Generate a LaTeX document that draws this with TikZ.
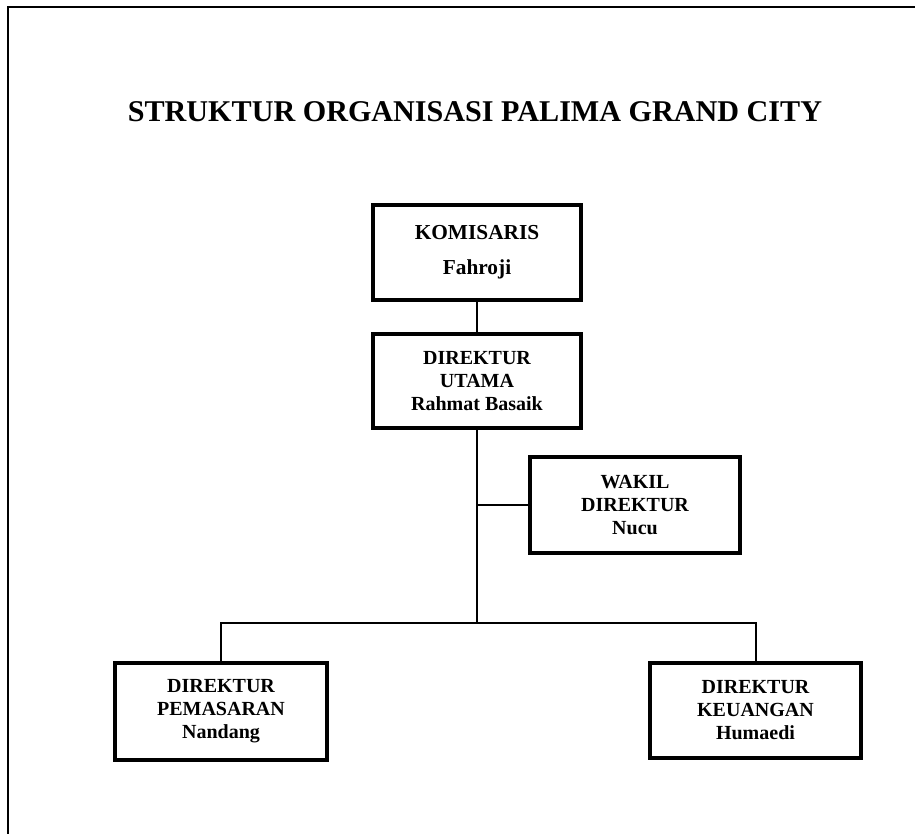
\documentclass[tikz,border=0pt]{standalone}
\usepackage{fontspec}
\setmainfont{Liberation Serif}
\usepackage{tikz}

\tikzset{
  jabatan/.style={draw=black, line width=3pt, rectangle, align=center,
    inner sep=0pt, font=\bfseries\fontsize{15}{17.25}\selectfont},
  garis/.style={black, line width=1.5pt},
}

\begin{document}
\begin{tikzpicture}[x=0.75pt,y=-0.75pt]
    \useasboundingbox (0,0) rectangle (915,834);
    \draw[line width=2pt] (8,834) -- (8,7) -- (915,7); % frame, left and top only
    \node[anchor=base, font=\bfseries\fontsize{22.6}{27}\selectfont] (judul) at (475,122) {STRUKTUR ORGANISASI PALIMA GRAND CITY};
    \node[jabatan, minimum width=156pt, minimum height=71.25pt, font=\bfseries\fontsize{16}{18}\selectfont] (komisaris) at (477,252.5) {KOMISARIS\\[8pt] Fahroji};
    \node[jabatan, minimum width=156pt, minimum height=70.5pt] (utama) at (477,381) {DIREKTUR\\UTAMA\\Rahmat Basaik};
    \node[jabatan, minimum width=157.5pt, minimum height=72pt] (wakil) at (635,505) {WAKIL\\DIREKTUR\\Nucu};
    \node[jabatan, minimum width=159pt, minimum height=72.75pt] (pemasaran) at (221,711.5) {DIREKTUR\\PEMASARAN\\Nandang};
    \node[jabatan, minimum width=158.25pt, minimum height=71.25pt] (keuangan) at (755.5,710.5) {DIREKTUR\\KEUANGAN\\Humaedi};
    \coordinate (cabang) at (476,623);
    \draw[garis] (komisaris) -- (utama);
    \draw[garis] (utama.south) -- (utama.south |- cabang);
    \draw[garis] (wakil.west) -- (wakil.west -| utama.south);
    \draw[garis] (pemasaran.north) -- (pemasaran.north |- cabang) -- (keuangan.north |- cabang) -- (keuangan.north);
\end{tikzpicture}
\end{document}
